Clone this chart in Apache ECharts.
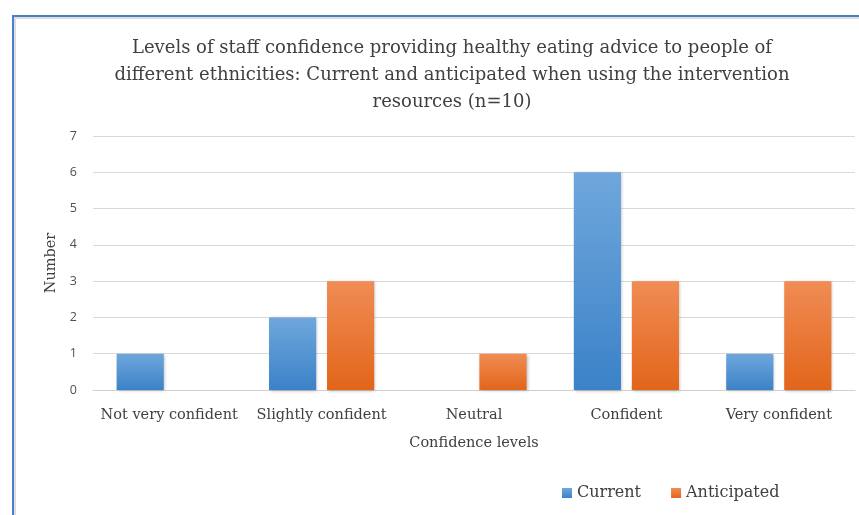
<!DOCTYPE html>
<html><head><meta charset="utf-8">
<script src="https://cdn.jsdelivr.net/npm/echarts@6/dist/echarts.min.js"></script>
<style>html,body{margin:0;padding:0;background:#fff}#c{width:859px;height:515px;position:relative}
#b{position:absolute;left:12px;top:15px;width:900px;height:600px;border-left:2px solid #4a7fd0;border-top:2px solid #4a7fd0;box-shadow:inset 2px 2px 0 #ddd;pointer-events:none}</style>
</head><body><div id="c"></div><div id="b"></div>
<script>
const categories = ['Not very confident','Slightly confident','Neutral','Confident','Very confident'];
const current = [1, 2, 0, 6, 1];
const anticipated = [0, 3, 1, 3, 3];
const yTicks = {min: 0, max: 7, interval: 1};
const serif = '"DejaVu Serif", serif';
const chart = echarts.init(document.getElementById('c'));
function grad(top, bottom){return new echarts.graphic.LinearGradient(0,0,0,1,[{offset:0,color:top},{offset:1,color:bottom}]);}
chart.setOption({
  animation:false,
  title:{text:'Levels of staff confidence providing healthy eating advice to people of\ndifferent ethnicities: Current and anticipated when using the intervention\nresources (n=10)',
    left:447, top:30, textAlign:'center',
    textStyle:{fontFamily:serif,fontSize:18,fontWeight:'normal',color:'#404040',lineHeight:27}},
  grid:{left:93,right:4,top:136,bottom:125,containLabel:false},
  legend:{bottom:9,left:557,itemWidth:10,itemHeight:10,itemGap:30,icon:'rect',
    textStyle:{fontFamily:serif,fontSize:16,color:'#404040'}},
  xAxis:{type:'category',data:categories,name:'Confidence levels',nameLocation:'middle',nameGap:46,
    nameTextStyle:{fontFamily:serif,fontSize:14.5,color:'#404040'},
    axisTick:{show:false},axisLine:{lineStyle:{color:'#d0d0d0'}},
    axisLabel:{interval:0,hideOverlap:false,fontFamily:serif,fontSize:14.5,color:'#404040',margin:18}},
  yAxis:{type:'value',min:yTicks.min,max:yTicks.max,interval:yTicks.interval,name:'Number',nameLocation:'middle',nameGap:26,nameRotate:90,
    nameTextStyle:{fontFamily:serif,fontSize:14.5,color:'#404040'},
    axisLabel:{fontFamily:'"Open Sans", sans-serif',fontSize:12.5,color:'#505050',margin:16},
    splitLine:{lineStyle:{color:'#d9d9d9'}},axisLine:{show:false},axisTick:{show:false}},
  series:[
    {name:'Current',type:'bar',data:current,barGap:'23%',barCategoryGap:'31%',
      itemStyle:{color:grad('#6fa7dc','#3b82c8'),shadowColor:'rgba(0,0,0,0.25)',shadowBlur:3,shadowOffsetX:1,shadowOffsetY:1}},
    {name:'Anticipated',type:'bar',data:anticipated,
      itemStyle:{color:grad('#f08c55','#e2651a'),shadowColor:'rgba(0,0,0,0.25)',shadowBlur:3,shadowOffsetX:1,shadowOffsetY:1}}
  ]
});
</script></body></html>
